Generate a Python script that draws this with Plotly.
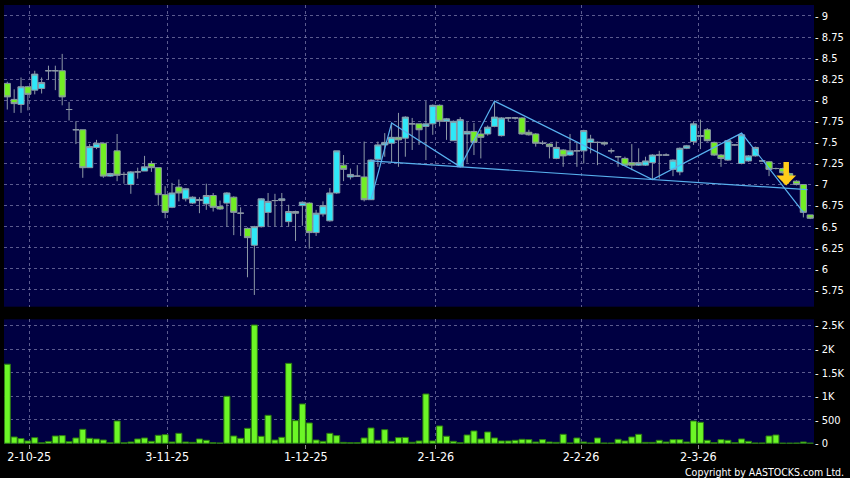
import numpy as np
import plotly.graph_objects as go

# daily OHLC + volume, oldest first
open_ = [8.20, 8.01, 7.95, 8.16, 8.12, 8.14, 8.35, 8.35, 8.35, 7.89,
         7.65, 7.65, 7.20, 7.44, 7.49, 7.10, 7.40, 7.12, 7.00, 7.15,
         7.16, 7.25, 7.20, 6.88, 6.73, 6.97, 6.83, 6.78, 6.81, 6.77,
         6.87, 6.74, 6.78, 6.85, 6.66, 6.48, 6.28, 6.50, 6.67, 6.81,
         6.81, 6.56, 6.68, 6.75, 6.78, 6.43, 6.65, 6.57, 6.90, 7.23,
         7.09, 7.10, 7.09, 6.82, 7.30, 7.47, 7.49, 7.56, 7.55, 7.72,
         7.72, 7.69, 7.72, 7.94, 7.75, 7.52, 7.21, 7.60, 7.63, 7.60,
         7.60, 7.69, 7.58, 7.79, 7.79, 7.79, 7.62, 7.60, 7.49, 7.48,
         7.31, 7.41, 7.35, 7.40, 7.40, 7.50, 7.50, 7.50, 7.40, 7.33,
         7.31, 7.26, 7.23, 7.23, 7.26, 7.35, 7.35, 7.18, 7.15, 7.43,
         7.51, 7.57, 7.65, 7.50, 7.35, 7.29, 7.47, 7.25, 7.28, 7.34,
         7.28, 7.27, 7.19, 7.19, 7.13, 7.04, 7.00, 6.64]
high = [8.22, 8.13, 8.27, 8.17, 8.35, 8.27, 8.41, 8.41, 8.55, 7.98,
        7.75, 7.65, 7.48, 7.53, 7.50, 7.14, 7.60, 7.15, 7.16, 7.20,
        7.34, 7.28, 7.20, 6.98, 7.02, 7.06, 6.96, 6.86, 6.85, 7.01,
        6.90, 6.81, 6.91, 6.86, 6.73, 6.49, 6.51, 6.84, 6.90, 6.89,
        6.90, 6.76, 6.69, 6.80, 6.79, 6.70, 6.80, 6.96, 7.40, 7.35,
        7.19, 7.23, 7.51, 7.30, 7.51, 7.61, 7.73, 7.85, 7.81, 7.79,
        7.72, 7.99, 7.95, 7.95, 7.79, 7.76, 7.80, 7.74, 7.73, 7.65,
        7.70, 7.99, 7.80, 7.80, 7.80, 7.80, 7.65, 7.61, 7.52, 7.49,
        7.51, 7.42, 7.60, 7.50, 7.65, 7.59, 7.51, 7.51, 7.43, 7.34,
        7.33, 7.48, 7.43, 7.33, 7.36, 7.40, 7.37, 7.30, 7.44, 7.47,
        7.75, 7.77, 7.67, 7.51, 7.36, 7.53, 7.48, 7.61, 7.35, 7.45,
        7.29, 7.28, 7.20, 7.20, 7.14, 7.05, 7.00, 6.64]
low = [7.89, 7.85, 7.85, 7.88, 8.07, 8.08, 8.24, 8.12, 7.94, 7.76,
       7.48, 7.08, 7.20, 7.42, 7.08, 7.09, 7.04, 7.01, 6.89, 7.07,
       7.16, 7.15, 6.75, 6.60, 6.72, 6.80, 6.80, 6.77, 6.66, 6.70,
       6.68, 6.70, 6.50, 6.40, 6.39, 5.90, 5.69, 6.49, 6.50, 6.50,
       6.50, 6.50, 6.33, 6.51, 6.24, 6.39, 6.62, 6.56, 6.89, 7.04,
       7.06, 7.09, 6.80, 6.82, 7.21, 7.33, 7.26, 7.21, 7.33, 7.41,
       7.47, 7.29, 7.59, 7.69, 7.53, 7.52, 7.21, 7.26, 7.35, 7.31,
       7.58, 7.68, 7.57, 7.75, 7.77, 7.59, 7.58, 7.45, 7.47, 7.31,
       7.30, 7.21, 7.34, 7.21, 7.25, 7.37, 7.23, 7.46, 7.37, 7.21,
       7.22, 7.17, 7.22, 7.22, 7.06, 7.07, 7.34, 7.10, 7.11, 7.42,
       7.47, 7.42, 7.51, 7.34, 7.21, 7.28, 7.46, 7.24, 7.27, 7.33,
       7.27, 7.10, 7.18, 7.13, 7.09, 6.99, 6.61, 6.59]
close = [8.04, 7.96, 8.16, 8.07, 8.31, 8.21, 8.35, 8.35, 8.04, 7.89,
         7.65, 7.20, 7.45, 7.49, 7.10, 7.13, 7.11, 7.12, 7.15, 7.15,
         7.21, 7.20, 6.88, 6.67, 6.90, 6.90, 6.95, 6.85, 6.82, 6.87,
         6.73, 6.71, 6.90, 6.67, 6.66, 6.37, 6.50, 6.83, 6.80, 6.81,
         6.83, 6.68, 6.66, 6.79, 6.43, 6.66, 6.75, 6.90, 7.40, 7.18,
         7.12, 7.10, 6.82, 7.29, 7.47, 7.50, 7.56, 7.53, 7.80, 7.72,
         7.65, 7.72, 7.94, 7.75, 7.78, 7.75, 7.77, 7.63, 7.50, 7.56,
         7.68, 7.80, 7.79, 7.79, 7.79, 7.60, 7.59, 7.49, 7.49, 7.45,
         7.44, 7.34, 7.40, 7.40, 7.64, 7.54, 7.50, 7.48, 7.40, 7.33,
         7.23, 7.23, 7.26, 7.28, 7.35, 7.35, 7.35, 7.29, 7.43, 7.46,
         7.72, 7.58, 7.52, 7.35, 7.31, 7.52, 7.47, 7.59, 7.34, 7.44,
         7.28, 7.18, 7.19, 7.14, 7.10, 7.00, 6.67, 6.60]
volume = [1680, 134, 100, 50, 120, 10, 40, 155, 163, 35,
          113, 297, 106, 92, 70, 10, 474, 10, 28, 92,
          113, 42, 170, 184, 28, 212, 28, 20, 92, 64,
          14, 7, 998, 155, 106, 318, 2512, 148, 594, 70,
          127, 1698, 481, 835, 432, 70, 42, 212, 163, 20,
          14, 14, 113, 325, 64, 290, 42, 120, 125, 22,
          50, 1047, 50, 368, 150, 42, 14, 177, 262, 92,
          240, 113, 50, 50, 64, 85, 78, 28, 78, 28,
          20, 191, 7, 113, 28, 7, 113, 7, 5, 85,
          50, 134, 191, 20, 20, 64, 28, 78, 78, 28,
          474, 446, 64, 14, 78, 64, 14, 92, 42, 7,
          7, 155, 177, 3, 3, 5, 28, 3]

x_tick_pos = [3.2, 23.3, 43.5, 62.45, 83.6, 100.7]
x_tick_labels = ["2-10-25", "3-11-25", "1-12-25", "2-1-26", "2-2-26", "2-3-26"]
price_ticks = [5.75, 6, 6.25, 6.5, 6.75, 7, 7.25, 7.5, 7.75, 8, 8.25, 8.5, 8.75, 9]
price_labels = ["5.75", "6", "6.25", "6.5", "6.75", "7", "7.25", "7.5",
                "7.75", "8", "8.25", "8.5", "8.75", "9"]
vol_ticks = [0, 500, 1000, 1500, 2000, 2500]
vol_labels = ["0", "500", "1K", "1.5K", "2K", "2.5K"]

# zigzag pivots (bar index, which price)
pivot_idx = [53, 56, 66, 71, 94, 107, 116]
pivot_kind = ["low", "high", "low", "high", "low", "high", "close"]
# sell signal
signal_idx = [113.5]
signal_price = [6.99]

idx = np.arange(len(close))
src = {"low": low, "high": high, "close": close}
piv_y = [src[k][i] for i, k in zip(pivot_idx, pivot_kind)]

# neckline through the two last troughs, extended over the pattern
t1, t2 = pivot_idx[2], pivot_idx[4]
slope = (low[t2] - low[t1]) / (t2 - t1)
neck_x = np.array([pivot_idx[0], pivot_idx[-1] + 0.6])
neck_y = low[t1] + slope * (neck_x - t1)

BG = "#000042"
GRID = "rgba(130,130,175,0.7)"
FONT = "DejaVu Sans Condensed, DejaVu Sans"

fig = go.Figure()
fig.add_trace(go.Candlestick(
    x=idx, open=open_, high=high, low=low, close=close,
    increasing=dict(line=dict(color="#8d99a6", width=1), fillcolor="#2fe8f8"),
    decreasing=dict(line=dict(color="#8d99a6", width=1), fillcolor="#72ee24"),
    whiskerwidth=0, xaxis="x", yaxis="y", showlegend=False,
))
fig.add_trace(go.Scatter(
    x=pivot_idx, y=piv_y, mode="lines", xaxis="x", yaxis="y",
    line=dict(color="#58b0ee", width=1.2), showlegend=False,
))
fig.add_trace(go.Scatter(
    x=neck_x, y=neck_y, mode="lines", xaxis="x", yaxis="y",
    line=dict(color="#58b0ee", width=1.2), showlegend=False,
))
fig.add_trace(go.Bar(
    x=idx, y=volume, xaxis="x2", yaxis="y2", showlegend=False,
    marker=dict(color="#6cf626", line=dict(color="#2b7a12", width=1)),
))

for sx, sy in zip(signal_idx, signal_price):
    fig.add_annotation(x=sx, y=sy, xref="x", yref="y", text="", showarrow=True,
                       ax=0, ay=-25, arrowhead=1, arrowsize=0.6, arrowwidth=5.5,
                       arrowcolor="#ffcc1a")

fig.add_annotation(text="Copyright by AASTOCKS.com Ltd.", xref="paper", yref="paper",
                   x=1.04, y=-0.063, xanchor="right", yanchor="middle", showarrow=False,
                   font=dict(family=FONT, size=10.5, color="white"))

xr = [-0.48, 117.55]
common_x = dict(range=xr, tickmode="array", tickvals=x_tick_pos, showgrid=True,
                gridcolor=GRID, griddash="3px,3px", gridwidth=1, zeroline=False,
                showline=False)
common_y = dict(side="right", showgrid=True, gridcolor=GRID, griddash="3px,3px",
                gridwidth=1, zeroline=False, showline=False, ticks="",
                tickmode="array",
                tickfont=dict(family=FONT, size=11, color="white"))

fig.update_layout(
    width=850, height=478,
    margin=dict(l=4, r=36, t=5, b=34),
    paper_bgcolor="black", plot_bgcolor=BG,
    boxgap=0.1, boxgroupgap=0, bargap=0.12,
    xaxis=dict(domain=[0, 1], anchor="y", showticklabels=False, ticks="",
               rangeslider=dict(visible=False), **common_x),
    xaxis2=dict(domain=[0, 1], anchor="y2", matches="x", ticktext=x_tick_labels,
                ticks="outside", ticklen=4, tickcolor="#8a8a8a",
                ticklabelstandoff=-3,
                tickfont=dict(family=FONT, size=12.5, color="white"), **common_x),
    yaxis=dict(domain=[0.3128, 1], anchor="x", range=[5.551, 9.13],
               tickvals=price_ticks, ticktext=["- " + s for s in price_labels],
               **common_y),
    yaxis2=dict(domain=[0, 0.284], anchor="x2", range=[-15, 2633],
                tickvals=vol_ticks, ticktext=["- " + s for s in vol_labels],
                **common_y),
)

# the page body has an 8px default margin; drop it so the chart sits at 0,0
fig.write_html("out.html", config={"displayModeBar": False},
               post_script="document.body.style.margin='0';")
